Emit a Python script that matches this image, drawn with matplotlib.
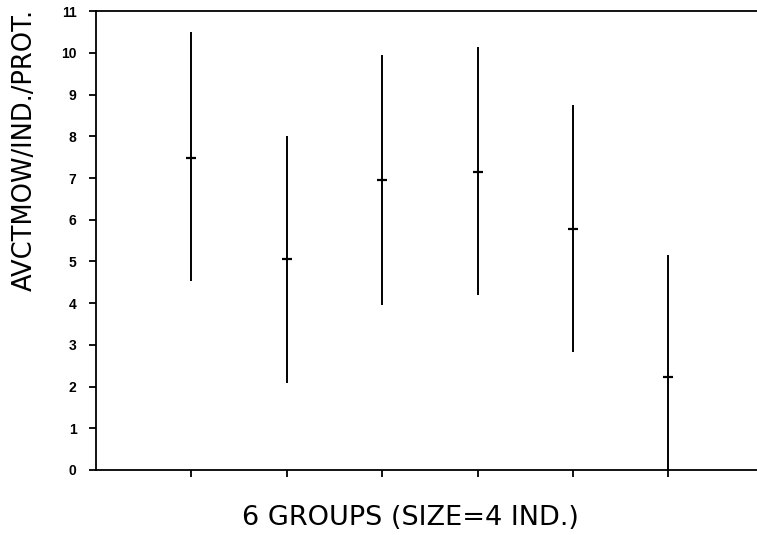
import matplotlib
matplotlib.use("Agg")
import matplotlib.pyplot as plt
import numpy as np

# Dados
grupos = [1, 2, 3, 4, 5, 6]
media = [7.48, 5.05, 6.95, 7.15, 5.77, 2.22]
minimo = [4.52, 2.08, 3.95, 4.20, 2.82, -0.75]
maximo = [10.50, 8.00, 9.95, 10.15, 8.75, 5.15]
yticks = list(range(0, 12))

plt.rcParams['font.family'] = ['Liberation Sans', 'DejaVu Sans']

fig = plt.figure(figsize=(7.57, 5.35), dpi=100)
ax = fig.add_axes([0.1268, 0.1215, 0.8732, 0.8575])

for g, lo, hi, m in zip(grupos, minimo, maximo, media):
    ax.plot([g, g], [lo, hi], color="black", lw=1.4, solid_capstyle="butt")
    ax.plot(g, m, marker="_", markersize=7.5, mew=1.6, color="black")

ax.set_xlim(0.0, 6.93)
ax.set_ylim(0, 11)
ax.set_xticks(grupos)
ax.set_xticklabels([])
ax.set_yticks(yticks)
ax.set_yticklabels([str(t) for t in yticks], fontsize=10, fontweight="bold")

ax.spines["right"].set_visible(False)
for s in ["left", "bottom", "top"]:
    ax.spines[s].set_linewidth(1.3)
ax.tick_params(axis="both", direction="out", length=5, width=1.3)
ax.tick_params(axis="y", pad=9)

# rótulos dos eixos (posição como no original)
fig.text(25 / 757, 1 - 150 / 535, "AVCTMOW/IND./PROT.", family="DejaVu Sans",
         fontsize=18.5, rotation=90, ha="center", va="center")
fig.text(410 / 757, 1 - 518 / 535, "6 GROUPS (SIZE=4 IND.)", family="DejaVu Sans",
         fontsize=19.5, ha="center", va="center")

fig.savefig("out.png", dpi=100)
